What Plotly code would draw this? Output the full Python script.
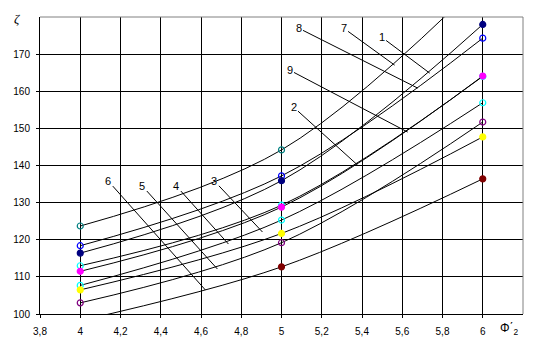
import plotly.graph_objects as go

# ---- data ----
phi = [4, 5, 6]
curve_labels = ["7", "8", "1", "9", "2", "3", "4", "5", "6"]
s7 = [123.7, 144.2, 190.0]
s8 = [118.4, 137.2, 174.3]
s1 = [116.4, 135.9, 178.0]
s9 = [113.0, 129.3, 164.0]
s2 = [111.5, 128.8, 164.1]
s3 = [107.7, 125.3, 156.9]
s4 = [106.5, 121.7, 147.7]
s5 = [103.0, 119.2, 151.7]
s6 = [98.2, 112.7, 136.4]
series = [s7, s8, s1, s9, s2, s3, s4, s5, s6]
marker_colors = ["#008080", "#0000FF", "#000080", "#00FFFF", "#FF00FF",
                 "#00FFFF", "#FFFF00", "#800080", "#800000"]
marker_filled = [False, False, True, False, True, False, True, False, True]

x_ticks = [3.8, 4.0, 4.2, 4.4, 4.6, 4.8, 5.0, 5.2, 5.4, 5.6, 5.8, 6.0]
x_ticktext = ["3,8", "4", "4,2", "4,4", "4,6", "4,8", "5", "5,2", "5,4", "5,6", "5,8", "6"]
y_ticks = [100, 110, 120, 130, 140, 150, 160, 170]

fig = go.Figure()
for ys, col, filled in zip(series, marker_colors, marker_filled):
    fig.add_trace(go.Scatter(
        x=phi, y=ys, mode="lines+markers",
        line=dict(color="black", width=1, shape="spline", smoothing=1),
        marker=dict(symbol="circle" if filled else "circle-open", size=6,
                    color=col, line=dict(color=col, width=1.2)),
        showlegend=False,
    ))

# pixel -> data helpers for label placement
def px2x(px):
    return 3.8 + (px - 39.8) / 201.0

def px2y(py):
    return 100 + (314 - py) / 3.714

# label text centre, leader end
labels = [
    ("8", (298, 28), (417, 88)),
    ("7", (343, 28), (394, 65)),
    ("1", (381, 37), (429, 73)),
    ("9", (289, 70), (407, 132)),
    ("2", (293, 107), (357, 165)),
    ("6", (108, 181), (205, 290)),
    ("5", (142, 186), (217, 269)),
    ("4", (176, 186), (228, 244)),
    ("3", (214, 181), (262, 232)),
]
for txt, (tx, ty), (ex, ey) in labels:
    fig.add_annotation(
        x=px2x(ex), y=px2y(ey), ax=px2x(tx), ay=px2y(ty),
        xref="x", yref="y", axref="x", ayref="y",
        text=txt, showarrow=True, arrowhead=0, arrowwidth=1, arrowcolor="black",
        font=dict(family="Liberation Sans, Arial", size=11, color="black"),
        standoff=0, startstandoff=0,
    )

fig.add_annotation(x=0, y=1, xref="paper", yref="paper", text="<i>ζ</i>",
                   showarrow=False, xanchor="right", yanchor="middle", xshift=-18, yshift=-1,
                   font=dict(family="Liberation Serif, Times New Roman", size=13, color="black"))
fig.add_annotation(x=1, y=0, xref="paper", yref="paper", text="Φ΄<sub>2</sub>",
                   showarrow=False, xanchor="center", yanchor="middle", xshift=-14, yshift=-15,
                   font=dict(family="Liberation Sans, Arial", size=12, color="black"))

# gray top and right border
fig.add_shape(type="line", xref="paper", yref="paper", x0=0, x1=1, y0=1, y1=1,
              line=dict(color="#808080", width=1))
fig.add_shape(type="line", xref="paper", yref="paper", x0=1, x1=1, y0=0, y1=1,
              line=dict(color="#808080", width=1))

fig.update_layout(
    width=533, height=346,
    margin=dict(l=40, r=10, t=17, b=32),
    plot_bgcolor="white", paper_bgcolor="white",
    font=dict(family="Liberation Sans, Arial", size=10, color="black"),
    xaxis=dict(range=[3.8, 6.2], tickvals=x_ticks, ticktext=x_ticktext,
               showgrid=True, gridcolor="black", gridwidth=1,
               showline=True, linecolor="black", linewidth=1,
               ticks="outside", ticklen=3, tickcolor="black", zeroline=False,
               ticklabelstandoff=5),
    yaxis=dict(range=[100, 180], tickvals=y_ticks,
               showgrid=True, gridcolor="black", gridwidth=1,
               showline=True, linecolor="black", linewidth=1,
               ticks="outside", ticklen=3, tickcolor="black", zeroline=False,
               ticklabelstandoff=4),
)

fig.write_html("out.html")
